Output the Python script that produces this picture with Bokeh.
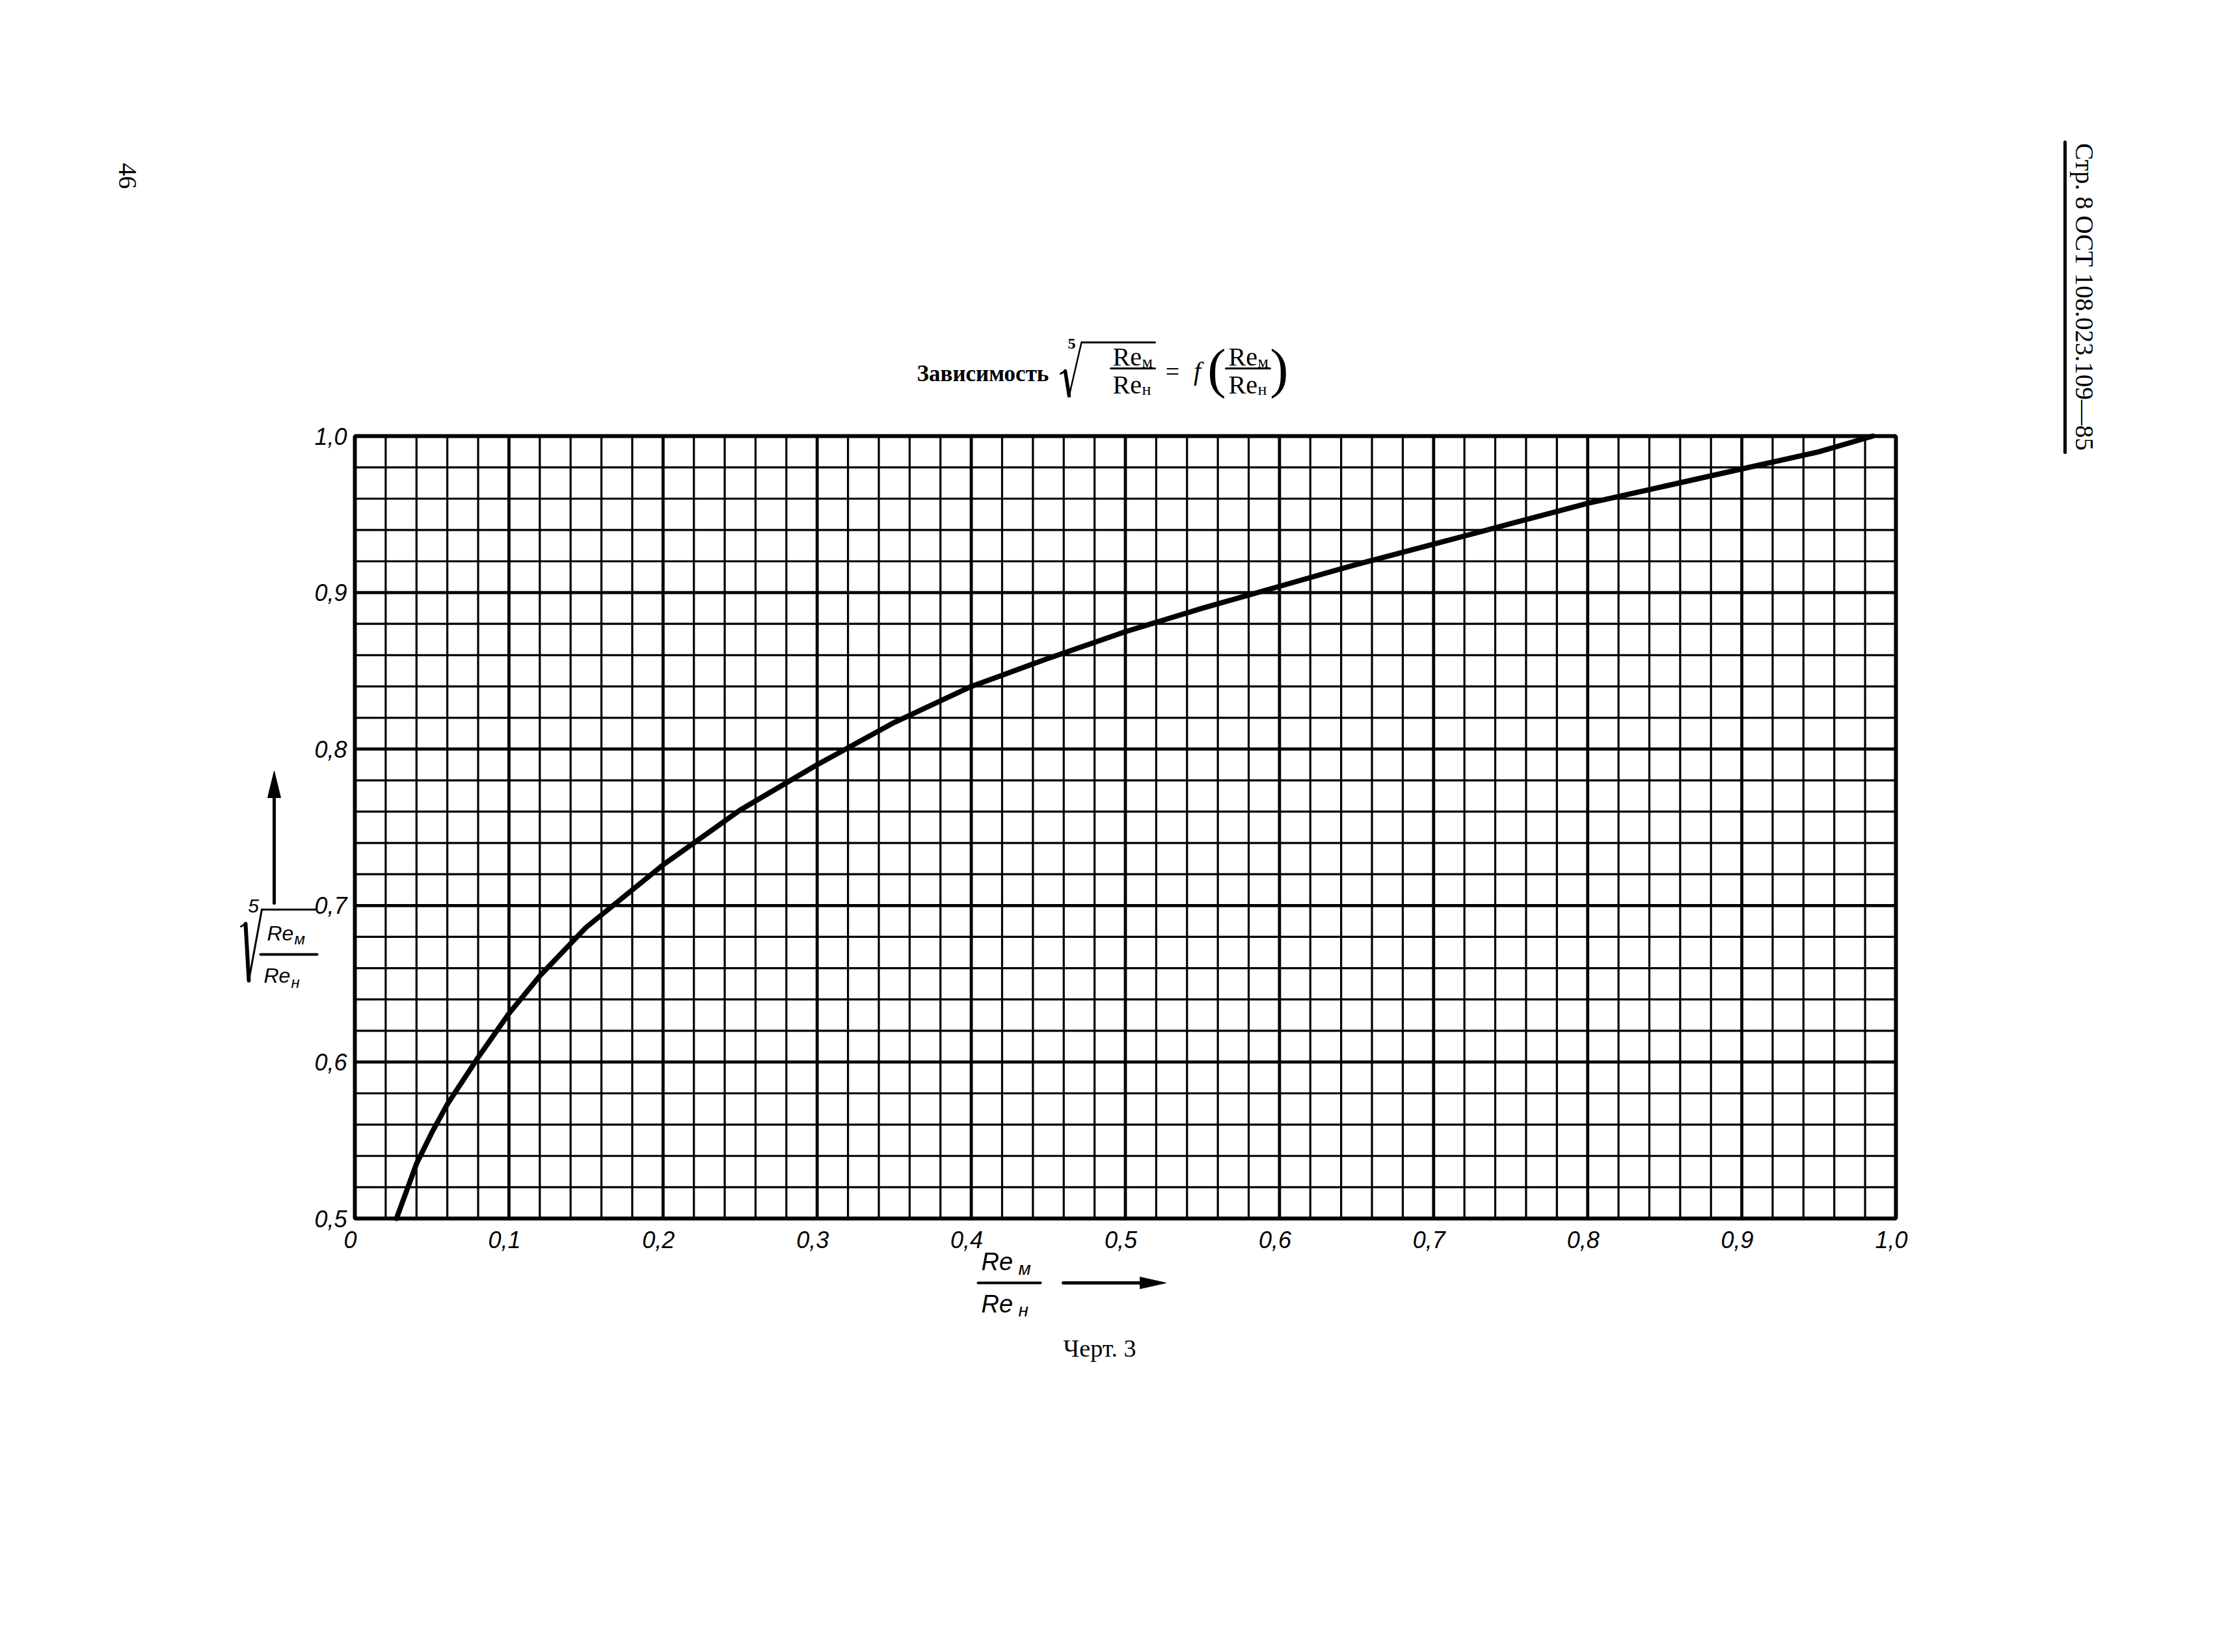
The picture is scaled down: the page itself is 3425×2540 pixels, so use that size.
import math
import numpy as np
from bokeh.plotting import figure
from bokeh.models import Range1d
from bokeh.core.properties import value
from bokeh.embed import file_html
from bokeh.resources import INLINE

# ---- data ----
ratio = [0.027, 0.04, 0.05, 0.06, 0.08, 0.10, 0.12, 0.15, 0.20, 0.25, 0.30, 0.35,
         0.40, 0.45, 0.50, 0.55, 0.60, 0.65, 0.70, 0.75, 0.80, 0.85, 0.90, 0.95, 0.985]
root5 = [0.500, 0.535, 0.555, 0.573, 0.603, 0.631, 0.655, 0.686, 0.726, 0.761, 0.790, 0.817,
         0.840, 0.858, 0.875, 0.890, 0.904, 0.918, 0.931, 0.944, 0.957, 0.968, 0.979, 0.990, 1.000]

x_ticks = [0.0, 0.1, 0.2, 0.3, 0.4, 0.5, 0.6, 0.7, 0.8, 0.9, 1.0]
x_tick_labels = ["0", "0,1", "0,2", "0,3", "0,4", "0,5", "0,6", "0,7", "0,8", "0,9", "1,0"]
y_ticks = [0.5, 0.6, 0.7, 0.8, 0.9, 1.0]
y_tick_labels = ["0,5", "0,6", "0,7", "0,8", "0,9", "1,0"]
x_minor_step = 0.02
y_minor_step = 0.02

# ---- layout (page pixels) ----
OFF = 0
W, H = 3409, 2524
FL, FT, FW, FH = 545, 670, 2369, 1203   # chart area in page coordinates
X0, X1, Y0, Y1 = 0.0, 1.0, 0.5, 1.0

def dx(px):
    return X0 + (px - FL) / FW * (X1 - X0)

def dy(py):
    return Y1 - (py - FT) / FH * (Y1 - Y0)

p = figure(width=W, height=H, output_backend="svg", toolbar_location=None,
           x_range=Range1d(dx(OFF), dx(OFF + W)), y_range=Range1d(dy(OFF + H), dy(OFF)),
           min_border=0, x_axis_location=None, y_axis_location=None)
p.grid.visible = False
p.outline_line_color = None
p.background_fill_color = "white"
p.border_fill_color = "white"

# ---- grid ----
x_minor = [round(v, 2) for v in np.arange(X0, X1 + 1e-9, x_minor_step)]
y_minor = [round(v, 2) for v in np.arange(Y0, Y1 + 1e-9, y_minor_step)]
xm = [v for v in x_minor if all(abs(v - t) > 1e-6 for t in x_ticks)]
ym = [v for v in y_minor if all(abs(v - t) > 1e-6 for t in y_ticks)]
p.segment(x0=xm, y0=[Y0] * len(xm), x1=xm, y1=[Y1] * len(xm), line_color="black", line_width=3.2)
p.segment(x0=[X0] * len(ym), y0=ym, x1=[X1] * len(ym), y1=ym, line_color="black", line_width=3.2)
p.segment(x0=x_ticks, y0=[Y0] * len(x_ticks), x1=x_ticks, y1=[Y1] * len(x_ticks),
          line_color="black", line_width=4.8)
p.segment(x0=[X0] * len(y_ticks), y0=y_ticks, x1=[X1] * len(y_ticks), y1=y_ticks,
          line_color="black", line_width=4.8)
p.quad(left=[X0], right=[X1], bottom=[Y0], top=[Y1], fill_color=None,
       line_color="black", line_width=6)

# ---- curve ----
p.line(ratio, root5, line_color="black", line_width=8, line_cap="round", line_join="round")

# ---- tick labels ----
TICK_FONT = "Liberation Sans"
p.text(x=x_ticks, y=[dy(1905)] * len(x_ticks), text=x_tick_labels, x_offset=-7,
       text_font=value(TICK_FONT), text_font_style="italic", text_font_size="36px",
       text_align="center", text_baseline="middle", text_color="black")
p.text(x=[dx(533)] * len(y_ticks), y=y_ticks, text=y_tick_labels,
       text_font=value(TICK_FONT), text_font_style="italic", text_font_size="36px",
       text_align="right", text_baseline="middle", text_color="black")

# ---- helpers ----
def label(px, py, text, size, font="Liberation Serif", style="normal", align="left",
          baseline="middle", angle=0.0):
    p.text(x=[dx(px)], y=[dy(py)], text=[text], text_font=value(font),
           text_font_size=f"{size}px", text_font_style=style, text_align=align,
           text_baseline=baseline, angle=angle, text_color="black")

def seg(x1, y1, x2, y2, w=3):
    p.segment(x0=[dx(x1)], y0=[dy(y1)], x1=[dx(x2)], y1=[dy(y2)],
              line_color="black", line_width=w, line_cap="round")

def tri(pts):
    p.patch(x=[dx(a) for a, b in pts], y=[dy(b) for a, b in pts],
            fill_color="black", line_color="black", line_width=1)

# page number and header
label(195, 270, "46", 40, angle=-math.pi / 2, align="center")
label(3204, 456, "Стр. 8 ОСТ 108.023.109—85", 39, angle=-math.pi / 2, align="center")
seg(3174, 218, 3174, 695, 5)

# title
label(1409, 574, "Зависимость", 35, style="bold")
label(1647, 528, "5", 24, style="bold", align="center")
seg(1630, 574, 1637, 570, 3)
seg(1637, 570, 1643, 608, 5.5)
seg(1643, 608, 1662, 526, 2.5)
seg(1662, 526, 1775, 526, 3)
label(1710, 548, "Re", 40)
label(1755, 556, "м", 26)
seg(1707, 566, 1775, 566, 3)
label(1710, 591, "Re", 40)
label(1755, 598, "н", 26)
label(1802, 570, "=", 38, align="center")
label(1840, 570, "f", 40, style="italic", align="center")
label(1870, 565, "(", 85, align="center")
label(1888, 548, "Re", 40)
label(1933, 556, "м", 26)
seg(1884, 566, 1952, 566, 3)
label(1888, 591, "Re", 40)
label(1933, 598, "н", 26)
label(1966, 565, ")", 85, align="center")

# y axis label
seg(421, 1388, 421, 1215, 5)
tri([(421, 1185), (411, 1226), (431, 1226)])
label(389, 1392, "5", 30, font=TICK_FONT, style="italic", align="center")
seg(370, 1424, 377, 1420, 3)
seg(377, 1420, 382, 1507, 6)
seg(382, 1507, 402, 1398, 3)
seg(402, 1398, 484, 1398, 3)
label(410, 1434, "Re", 32, font=TICK_FONT, style="italic")
label(452, 1443, "м", 24, font=TICK_FONT, style="italic")
seg(400, 1467, 487, 1467, 4)
label(405, 1499, "Re", 32, font=TICK_FONT, style="italic")
label(447, 1510, "н", 24, font=TICK_FONT, style="italic")

# x axis label
label(1508, 1939, "Re", 38, font=TICK_FONT, style="italic")
label(1565, 1950, "м", 28, font=TICK_FONT, style="italic")
seg(1503, 1972, 1599, 1972, 4)
label(1508, 2004, "Re", 38, font=TICK_FONT, style="italic")
label(1565, 2014, "н", 28, font=TICK_FONT, style="italic")
seg(1634, 1972, 1765, 1972, 5)
tri([(1792, 1972), (1752, 1963), (1752, 1981)])

# caption
label(1690, 2072, "Черт. 3", 38, align="center")

open("out.html", "w").write(file_html(p, INLINE))
